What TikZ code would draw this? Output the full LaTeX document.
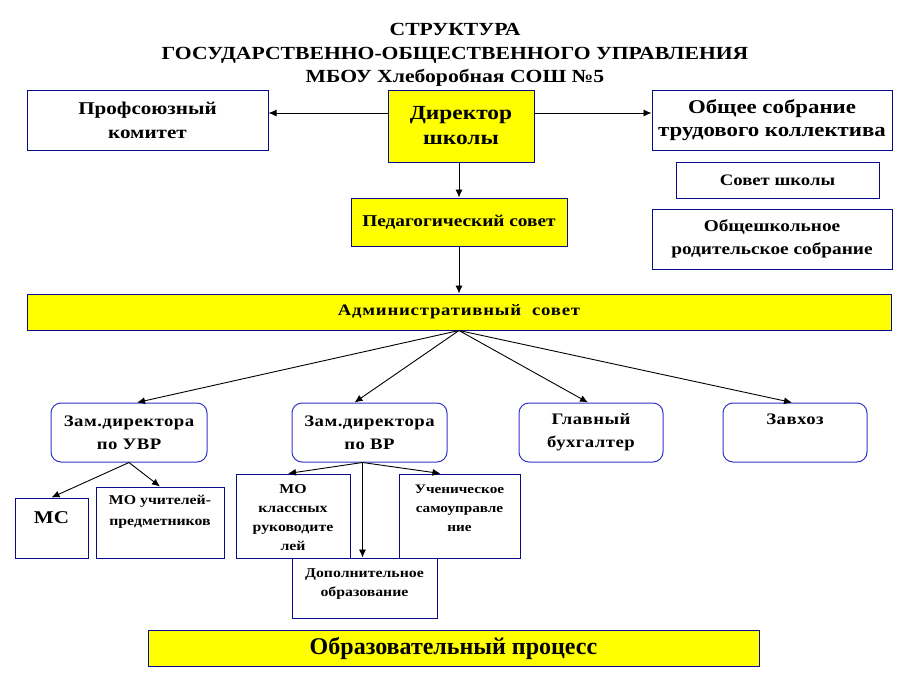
\documentclass[tikz,border=0pt]{standalone}
\usepackage{fontspec}
\setmainfont{Liberation Serif}
\newfontfamily\widefont{Liberation Serif}[FakeStretch=1.17]
\usepackage{tikz}
\usetikzlibrary{arrows.meta}
\usetikzlibrary{positioning}
\definecolor{boxblue}{RGB}{10,10,140}
\definecolor{roundblue}{RGB}{50,50,200}
\definecolor{boxyellow}{RGB}{255,255,0}
\tikzset{
  plainbox/.style={draw=boxblue, line width=1pt, fill=white, inner sep=0pt,
    align=center},
  yellowbox/.style={plainbox, fill=boxyellow},
  roundbox/.style={draw=roundblue, line width=1pt, rounded corners=10pt,
    inner sep=0pt, align=center},
  toptext/.style={align=center, inner sep=0pt},
  arr/.style={-{Latex[length=8pt,width=7pt]}, line width=0.9pt, black}
}
\newcommand{\wf}[2]{\fontsize{#1}{#2}\selectfont\widefont\bfseries}

\begin{document}
\begin{tikzpicture}[x=1pt, y=-1pt]

    \useasboundingbox (0,0) rectangle (914,686);

    % Title
    \node[align=center, font=\wf{18.5}{23.5}] (title) at (455,55)
      {СТРУКТУРА\\ГОСУДАРСТВЕННО-ОБЩЕСТВЕННОГО УПРАВЛЕНИЯ\\МБОУ Хлеборобная СОШ №5};

    % Boxes: top row
    \node[plainbox, minimum width=241pt, minimum height=60pt,
      font=\wf{18}{24}] (prof) at (147.5,120) {Профсоюзный\\комитет};
    \node[yellowbox, minimum width=146pt, minimum height=72pt,
      font=\wf{20}{25}] (dir) at (461,126) {Директор\\школы};
    \node[plainbox, minimum width=240pt, minimum height=60pt,
      font=\wf{19.5}{23}] (obsh) at (772,120.5) {Общее собрание\\трудового коллектива};

    % Boxes: right column
    \node[plainbox, minimum width=203pt, minimum height=36pt,
      font=\wf{16}{20}] (sovet) at (777.5,180) {Совет школы};
    \node[plainbox, minimum width=240pt, minimum height=60pt,
      font=\wf{16.5}{23}] (rod) at (772,239) {Общешкольное\\родительское собрание};

    % Boxes: councils
    \node[yellowbox, minimum width=216pt, minimum height=48pt,
      font=\wf{16.5}{20}] (ped) at (459,222) {Педагогический совет};
    \node[yellowbox, minimum width=864pt, minimum height=36pt,
      font=\wf{16}{20}\addfontfeature{LetterSpace=5}] (adm) at (459,312) {Административный\ \ совет};

    % Boxes: deputies
    \node[roundbox, minimum width=156pt, minimum height=59pt,
      font=\wf{16}{23}\addfontfeature{LetterSpace=3}] (zuvr) at (129,432.5) {Зам.директора\\по УВР};
    \node[roundbox, minimum width=155pt, minimum height=59pt,
      font=\wf{16}{23}\addfontfeature{LetterSpace=3}] (zvr) at (369.5,432.5) {Зам.директора\\по ВР};
    \node[roundbox, minimum width=144pt, minimum height=59pt,
      font=\wf{16}{23}\addfontfeature{LetterSpace=3}] (buh) at (591,432.5) {Главный\\бухгалтер};
    \node[roundbox, minimum width=144pt, minimum height=59pt] (zavhoz) at (795,432.5) {};
    \node[toptext, below=11pt of zavhoz.north,
      font=\wf{16}{23}\addfontfeature{LetterSpace=3}] (zavhozt) {Завхоз};

    % Boxes: under deputy UVR
    \node[plainbox, minimum width=73pt, minimum height=60pt] (ms) at (51.5,528) {};
    \node[toptext, below=14pt of ms.north, font=\wf{18}{20}] (mst) {МС};
    \node[plainbox, minimum width=128pt, minimum height=71pt] (mou) at (160,522.5) {};
    \node[toptext, below=8pt of mou.north, font=\wf{13.5}{21}] (mout) {МО учителей-\\предметников};

    % Boxes: under deputy VR
    \node[plainbox, minimum width=114pt, minimum height=84pt] (mok) at (293,516) {};
    \node[toptext, below=11pt of mok.north, font=\wf{13.5}{19}] (mokt) {МО\\классных\\руководите\\лей};
    \node[plainbox, minimum width=121pt, minimum height=84pt] (uch) at (459.5,516) {};
    \node[toptext, below=11pt of uch.north, font=\wf{13}{19}] (ucht) {Ученическое\\самоуправле\\ние};
    \node[plainbox, minimum width=145pt, minimum height=60pt] (dop) at (364.5,588) {};
    \node[toptext, below=11pt of dop.north, font=\wf{13.5}{19}] (dopt) {Дополнительное\\образование};

    % Box: process
    \node[yellowbox, minimum width=611pt, minimum height=36pt,
      font=\fontsize{24}{26}\selectfont\bfseries] (proc) at (453.5,648) {Образовательный процесс};

    % Arrows: director
    \draw[arr] ([yshift=13pt]dir.west) -- ([yshift=13pt]dir.west -| prof.east);
    \draw[arr] ([yshift=13pt]dir.east) -- ([yshift=13pt]dir.east -| obsh.west);
    \draw[arr] (ped.north |- dir.south) -- (ped.north);
    \draw[arr] (ped.south) -- (adm.north);

    % Arrows: administrative council
    \draw[arr] (adm.south) -- ([xshift=8pt]zuvr.north);
    \draw[arr] (adm.south) -- ([xshift=-15pt]zvr.north);
    \draw[arr] (adm.south) -- ([xshift=-3pt]buh.north);
    \draw[arr] (adm.south) -- ([xshift=-3pt]zavhoz.north);

    % Arrows: deputies
    \draw[arr] (zuvr.south) -- (ms.north);
    \draw[arr] (zuvr.south) -- (mou.north);
    \draw[arr] ([xshift=-7pt]zvr.south) -- ([xshift=-5pt]mok.north);
    \draw[arr] ([xshift=-7pt]zvr.south) -- ([xshift=-7pt]zvr.south |- dop.north);
    \draw[arr] ([xshift=-7pt]zvr.south) -- ([xshift=-19pt]uch.north);

\end{tikzpicture}
\end{document}
